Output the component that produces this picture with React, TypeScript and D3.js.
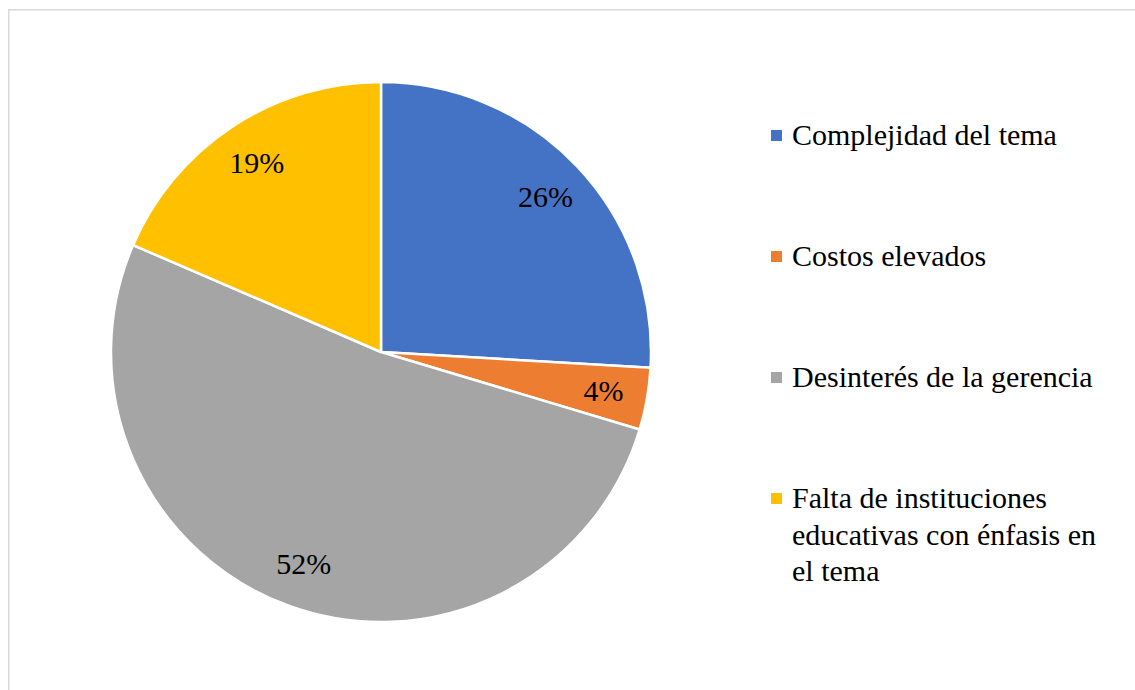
import * as d3 from "d3";

const W = 1135;
const H = 690;
const CX = 381;
const CY = 352;
const R = 270;
const LABEL_R = 226;

// Counts behind the shares (7/27, 1/27, 14/27, 5/27)
const categories = [
  "Complejidad del tema",
  "Costos elevados",
  "Desinterés de la gerencia",
  "Falta de instituciones educativas con énfasis en el tema",
];
const legendLines = [
  ["Complejidad del tema"],
  ["Costos elevados"],
  ["Desinterés de la gerencia"],
  ["Falta de instituciones", "educativas con énfasis en", "el tema"],
];
const values = [7, 1, 14, 5];
const pctLabels = ["26%", "4%", "52%", "19%"];
const colors = ["#4472C4", "#ED7D31", "#A5A5A5", "#FFC000"];

const FONT = "Liberation Serif";
const FS = 30;

export default function App() {
  const arcs = d3
    .pie<number>()
    .sort(null)
    .value((d) => d)(values);
  const arc = d3.arc<d3.PieArcDatum<number>>().innerRadius(0).outerRadius(R);
  const labelArc = d3
    .arc<d3.PieArcDatum<number>>()
    .innerRadius(LABEL_R)
    .outerRadius(LABEL_R);

  // legend rows: y of first baseline for each entry
  const legendY = d3.scalePoint<number>().domain([0, 1, 2, 3]).range([145, 508]);

  return (
    <svg
      width={W}
      height={H}
      fontFamily={FONT}
      style={{ position: "absolute", left: 0, top: 0, background: "#fff" }}
    >
      {/* chart frame */}
      <rect
        x={8.75}
        y={9.75}
        width={W + 20}
        height={H + 20}
        fill="#fff"
        stroke="#d9d9d9"
        strokeWidth={1.5}
      />

      <g transform={`translate(${CX},${CY})`}>
        {arcs.map((a, i) => (
          <path
            key={categories[i]}
            d={arc(a) ?? ""}
            fill={colors[i]}
            stroke="#fff"
            strokeWidth={2.5}
            strokeLinejoin="round"
          />
        ))}
        {arcs.map((a, i) => {
          const [lx, ly] = labelArc.centroid(a);
          return (
            <text
              key={`l${i}`}
              x={lx}
              y={ly + 10}
              textAnchor="middle"
              fontSize={FS}
              fontFamily={FONT}
              fill="#000"
            >
              {pctLabels[i]}
            </text>
          );
        })}
      </g>

      {/* Legend */}
      {legendLines.map((lines, i) => {
        const y0 = legendY(i) ?? 0;
        return (
          <g key={`lg${i}`}>
            <rect x={771} y={y0 - 15} width={11} height={11} fill={colors[i]} />
            {lines.map((ln, j) => (
              <text
                key={j}
                x={792}
                y={y0 + j * 36.5}
                fontSize={FS}
                fontFamily={FONT}
                fill="#000"
              >
                {ln}
              </text>
            ))}
          </g>
        );
      })}
    </svg>
  );
}
